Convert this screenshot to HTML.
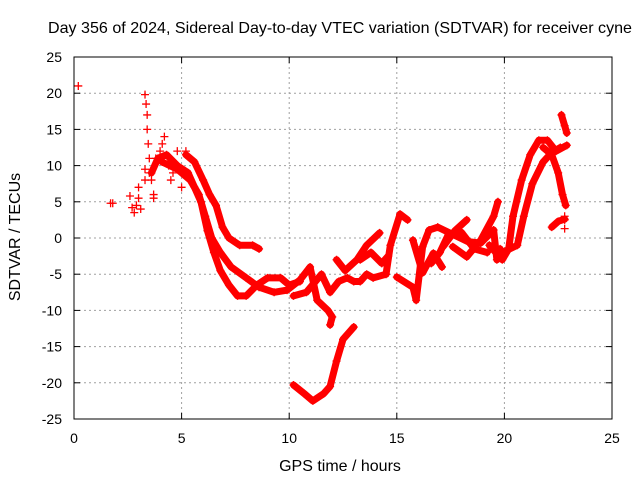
<!DOCTYPE html>
<html><head><meta charset="utf-8"><style>
body{margin:0;background:#fff;}
svg{display:block;font-family:"Liberation Sans",sans-serif;}
</style></head><body>
<svg id="chart" width="640" height="480" viewBox="0 0 640 480" xmlns="http://www.w3.org/2000/svg">
<rect width="640" height="480" fill="#fff"/>
<text x="340" y="33" font-size="16" text-anchor="middle" textLength="584" lengthAdjust="spacingAndGlyphs">Day 356 of 2024, Sidereal Day-to-day VTEC variation (SDTVAR) for receiver cyne</text>
<text x="340" y="471" font-size="16" text-anchor="middle">GPS time / hours</text>
<text x="20" y="237" font-size="16" text-anchor="middle" transform="rotate(-90 20 237)">SDTVAR / TECUs</text>
<g id="grid"></g><g id="series"></g><g id="axes"></g>
</svg>
<script>
const xTicks=[0,5,10,15,20,25];
const yTicks=[-25,-20,-15,-10,-5,0,5,10,15,20,25];
const scatterPts=[[0.2,21],[1.7,4.8],[1.8,4.8],[2.6,5.8],[2.7,4.2],[2.8,3.5],[2.9,4.5],[3.0,5.5],[3.0,7],[3.1,4],[3.3,19.8],[3.35,18.5],[3.4,17],[3.4,15],[3.45,13],[3.5,11],[3.5,9],[3.6,8],[3.7,6],[3.7,5.5],[3.3,9.5],[3.3,8],[3.8,11],[4.0,12],[4.1,13],[4.2,14],[4.4,10],[4.6,9],[4.8,12],[5.2,12],[4.5,8],[5.0,7],[22.8,3],[22.8,2.5],[22.8,1.3]];
const trackA=[[3.6,9],[3.9,11],[4.3,11.5],[4.8,10],[5.3,9],[5.6,7],[5.9,5],[6.2,1],[6.5,-2],[6.8,-4.5],[7.2,-6.5],[7.6,-8],[8.0,-8],[8.5,-6.5],[9.0,-5.5],[9.6,-5.5],[10.0,-6.5],[10.5,-6]];
const trackB=[[4.1,10.5],[4.8,9.5],[5.4,8],[5.8,6],[6.1,3],[6.4,0],[6.8,-2],[7.3,-4],[8.0,-5.5],[8.6,-6.8],[9.3,-7.5],[9.9,-7.2],[10.5,-5.8],[10.97,-4],[11.3,-8.6],[11.8,-10],[12.0,-10.9],[11.9,-12]];
const trackC=[[5.2,11.5],[5.6,10.5],[6.0,8],[6.3,6],[6.6,4.5],[6.9,1.5],[7.2,0],[7.7,-1],[8.3,-1],[8.6,-1.5]];
const trackD=[[10.2,-20.3],[10.7,-21.5],[11.1,-22.5],[11.6,-21.5],[11.9,-20.5],[12.2,-17],[12.5,-14],[13.0,-12.3]];
const trackE=[[10.2,-8],[10.8,-7.5],[11.5,-5],[11.9,-7.5],[12.3,-6],[12.7,-5.5],[13.0,-6],[13.3,-6],[13.6,-5],[13.9,-5.5],[14.5,-5],[14.7,-1],[15.15,3.3],[15.5,2.5]];
const trackF=[[12.2,-3],[12.6,-4.5],[13.15,-3],[13.6,-1],[14.2,0.7]];
const trackG=[[15.0,-5.4],[15.75,-6.8],[15.9,-8.6],[16.2,-1.2],[16.5,1.1],[16.9,1.5],[17.6,0.5],[18.3,-0.5],[18.9,-0.7],[19.5,1.1],[19.65,-3],[19.8,-1.5]];
const trackH=[[15.75,-0.3],[16.2,-4.8],[16.7,-2.1],[17.1,-4]];
const trackI=[[17.15,-1.2],[17.7,1],[18.25,2.5]];
const trackJ=[[17.6,-1.2],[18.25,-2.6],[18.9,-0.3],[19.5,3],[19.7,5]];
const trackK=[[19.3,-1],[19.9,-3],[20.2,-1.5],[20.4,3],[20.8,8],[21.2,11.5],[21.6,13.5],[22.0,13.5],[22.4,12],[22.9,12.8]];
const trackL=[[19.9,-2],[20.6,-1],[20.9,3],[21.3,7.5],[21.8,10.5],[22.2,11.8],[22.6,12.5]];
const trackM=[[21.8,12.5],[22.2,11.5],[22.5,9],[22.7,6],[22.85,4.5]];
const trackN=[[22.2,1.5],[22.5,2.3],[22.8,2.6]];
const trackO=[[22.65,17],[22.8,15.5],[22.9,14.5]];
const trackP=[[13.3,-3],[13.8,-2],[14.3,-3.5],[14.6,-2.5]];
const trackQ=[[16.6,-3.5],[17.0,-2],[17.4,0.5],[18.0,0.8],[18.6,-1.5],[19.2,-2]];
const tracks=[trackA,trackB,trackC,trackD,trackE,trackF,trackG,trackH,trackI,trackJ,trackK,trackL,trackM,trackN,trackO,trackP,trackQ];
const X0=74,X1=612,Y0=419,Y1=57;
function x(t){return X0+(t-0)/25*(X1-X0);}
function y(v){return Y0-(v+25)/50*(Y0-Y1);}
const NS='http://www.w3.org/2000/svg';
function mk(tag,attrs,parent){const e=document.createElementNS(NS,tag);for(const k in attrs)e.setAttribute(k,attrs[k]);parent.appendChild(e);return e;}
const grid=document.getElementById('grid'),axes=document.getElementById('axes'),ser=document.getElementById('series');
xTicks.forEach(t=>{
 if(t>0&&t<25){const l=mk('line',{x1:x(t),x2:x(t),y1:Y0,y2:Y1,stroke:'#a0a0a0','stroke-dasharray':'2,3'},grid);
 
 }
 mk('line',{x1:x(t),x2:x(t),y1:Y0,y2:Y0-6,stroke:'#000'},axes);
 mk('line',{x1:x(t),x2:x(t),y1:Y1,y2:Y1+6,stroke:'#000'},axes);
 const tx=mk('text',{x:x(t),y:443,'font-size':14,'text-anchor':'middle'},axes);tx.textContent=t;
 
 
});
yTicks.forEach(v=>{
 if(v>-25&&v<25){const l=mk('line',{x1:X0,x2:X1,y1:y(v),y2:y(v),stroke:'#a0a0a0','stroke-dasharray':'2,3'},grid);
 
 }
 mk('line',{x1:X0,x2:X0+6,y1:y(v),y2:y(v),stroke:'#000'},axes);
 mk('line',{x1:X1,x2:X1-6,y1:y(v),y2:y(v),stroke:'#000'},axes);
 const tx=mk('text',{x:62,y:y(v)+5,'font-size':14,'text-anchor':'end'},axes);tx.textContent=v;
 
 
});
const fr=mk('rect',{x:X0,y:Y1,width:X1-X0,height:Y0-Y1,fill:'none',stroke:'#000'},axes);


function plus(t,v){const px=x(t),py=y(v);
 const p=mk('path',{d:`M${px-4},${py}H${px+4}M${px},${py-4}V${py+4}`,stroke:'#f00','stroke-width':1.3,fill:'none'},ser);
 
 }
tracks.forEach(tr=>{
 const pl=mk('polyline',{points:tr.map(p=>x(p[0])+','+y(p[1])).join(' '),fill:'none',stroke:'#f00','stroke-width':7,'stroke-linejoin':'round','stroke-linecap':'round'},ser);
 
 
 tr.forEach(p=>plus(p[0],p[1]));
});
scatterPts.forEach(p=>plus(p[0],p[1]));
</script>
</body></html>
